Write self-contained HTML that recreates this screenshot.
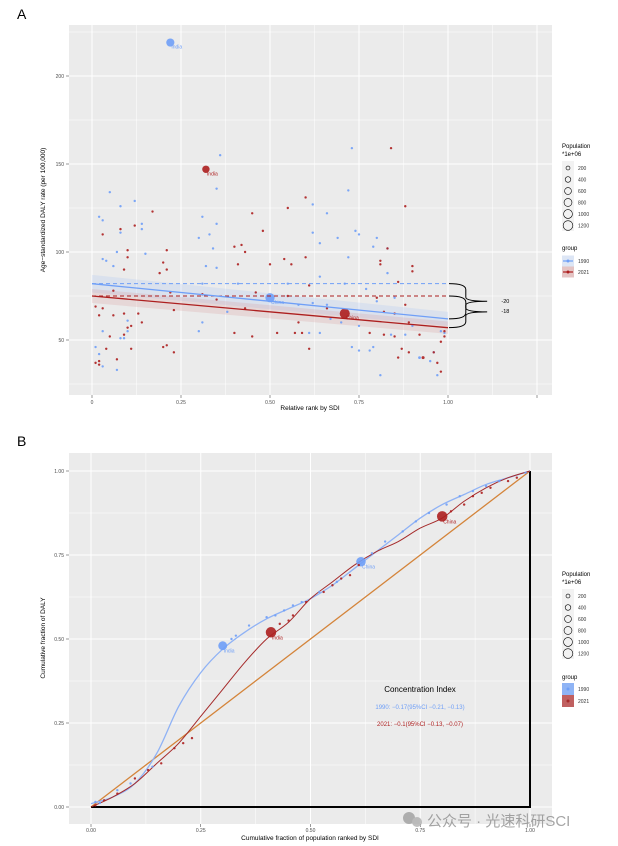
<!DOCTYPE html>
<html><head><meta charset="utf-8"><style>
body{margin:0;background:#fff;}
svg{display:block;font-family:"Liberation Sans","Noto Sans CJK SC",sans-serif;}
</style></head><body>
<svg id="s" width="618" height="846" xmlns="http://www.w3.org/2000/svg"></svg>
<script>
// ---------- Panel A data ----------
const aXTicks=[0,0.25,0.5,0.75,1.0];
const aXTickLabels=["0","0.25","0.50","0.75","1.00"];
const aYTicks=[50,100,150,200];
const pts1990A=[[0.22,219,850],[0.36,155,30],[0.05,134,60],[0.12,129,40],[0.73,159,5],[0.72,135,10],[0.66,122,60],[0.62,127,5],[0.35,136,5],[0.02,120,10],[0.03,118,10],[0.08,126,5],[0.14,116,10],[0.14,113,10],[0.08,111,5],[0.31,120,5],[0.33,110,5],[0.35,116,10],[0.34,102,20],[0.30,108,5],[0.62,111,10],[0.69,108,20],[0.64,105,10],[0.74,112,5],[0.75,110,5],[0.80,108,5],[0.79,103,10],[0.83,102,5],[0.72,97,10],[0.03,96,10],[0.04,95,5],[0.06,92,5],[0.15,99,5],[0.07,100,5],[0.32,92,10],[0.35,91,5],[0.83,88,40],[0.64,86,5],[0.50,74,1100],[0.38,66,40],[0.10,61,20],[0.02,42,20],[0.01,46,5],[0.03,35,5],[0.07,33,5],[0.08,51,10],[0.09,51,5],[0.10,55,5],[0.03,55,5],[0.73,46,5],[0.75,44,5],[0.78,44,5],[0.79,46,10],[0.81,30,5],[0.92,40,100],[0.96,43,40],[0.95,38,10],[0.97,30,5],[0.84,53,5],[0.88,53,5],[0.90,58,5],[0.85,74,20],[0.77,79,10],[0.71,82,10],[0.55,82,5],[0.31,82,5],[0.41,82,5],[0.58,70,10],[0.62,71,10],[0.66,70,5],[0.70,60,5],[0.75,58,5],[0.61,54,5],[0.64,54,10],[0.67,62,5],[0.80,72,5],[0.30,55,10],[0.31,60,5],[0.98,55,20],[0.99,54,10]];
const pts2021A=[[0.32,147,700],[0.84,159,5],[0.88,126,10],[0.60,131,20],[0.17,123,40],[0.12,115,40],[0.48,112,40],[0.55,125,10],[0.45,122,5],[0.03,110,10],[0.08,113,10],[0.42,104,30],[0.40,103,5],[0.21,101,10],[0.10,101,5],[0.83,102,15],[0.20,94,10],[0.21,90,10],[0.19,88,5],[0.09,90,10],[0.10,97,5],[0.50,93,15],[0.56,93,20],[0.54,96,10],[0.43,100,5],[0.41,93,10],[0.60,97,10],[0.81,95,10],[0.81,93,5],[0.90,92,10],[0.90,89,5],[0.86,83,30],[0.61,81,10],[0.46,77,30],[0.71,65,1300],[0.52,54,60],[0.14,60,60],[0.05,52,30],[0.04,45,30],[0.07,39,20],[0.11,45,10],[0.01,37,10],[0.02,36,5],[0.02,38,5],[0.20,46,20],[0.21,47,10],[0.23,43,10],[0.06,64,20],[0.09,65,20],[0.09,53,15],[0.10,57,10],[0.11,58,10],[0.02,64,10],[0.03,68,10],[0.01,69,10],[0.43,68,20],[0.40,54,5],[0.45,52,5],[0.58,60,15],[0.61,45,5],[0.57,54,5],[0.59,54,5],[0.78,54,5],[0.82,53,5],[0.86,40,5],[0.87,45,20],[0.89,43,20],[0.93,40,120],[0.96,43,40],[0.97,37,10],[0.98,32,5],[0.98,49,10],[0.99,52,30],[0.99,55,20],[0.89,60,10],[0.88,70,15],[0.80,74,10],[0.82,66,10],[0.85,65,10],[0.55,75,15],[0.31,76,10],[0.22,77,10],[0.06,78,10],[0.13,65,10],[0.23,67,10],[0.35,73,10],[0.66,68,10],[0.92,53,10],[0.85,52,10]];
const fit1990=[82,62];
const fit2021=[75,57];
const diffLabels=["-20","-18"];
// ---------- Panel B data ----------
const bTicks=[0,0.25,0.5,0.75,1.0];
const bTickLabels=["0.00","0.25","0.50","0.75","1.00"];
const curve1990=[[0,0.01],[0.05,0.03],[0.1,0.07],[0.15,0.16],[0.2,0.30],[0.25,0.40],[0.3,0.47],[0.35,0.52],[0.4,0.56],[0.45,0.59],[0.5,0.62],[0.55,0.66],[0.6,0.71],[0.65,0.76],[0.7,0.81],[0.75,0.86],[0.8,0.90],[0.85,0.93],[0.9,0.96],[0.95,0.98],[1,1]];
const curve2021=[[0,0],[0.05,0.03],[0.1,0.07],[0.15,0.13],[0.2,0.19],[0.25,0.27],[0.3,0.35],[0.35,0.43],[0.4,0.50],[0.45,0.55],[0.5,0.62],[0.55,0.67],[0.6,0.72],[0.65,0.76],[0.7,0.79],[0.75,0.83],[0.8,0.86],[0.85,0.91],[0.9,0.95],[0.95,0.98],[1,1]];
const pts1990B=[[0.01,0.015,40],[0.02,0.012,20],[0.06,0.05,20],[0.09,0.07,30],[0.14,0.12,10],[0.30,0.48,1000],[0.32,0.50,10],[0.33,0.51,10],[0.36,0.54,20],[0.40,0.565,40],[0.42,0.57,20],[0.44,0.585,20],[0.46,0.60,20],[0.48,0.61,20],[0.52,0.64,20],[0.56,0.67,10],[0.615,0.73,1150],[0.64,0.755,20],[0.67,0.79,20],[0.71,0.82,10],[0.74,0.85,10],[0.77,0.875,10],[0.81,0.90,10],[0.84,0.925,10],[0.87,0.94,10],[0.9,0.955,10],[0.93,0.97,10],[0.99,0.995,20]];
const pts2021B=[[0.01,0.005,20],[0.03,0.02,10],[0.06,0.04,10],[0.1,0.085,10],[0.13,0.11,40],[0.16,0.13,40],[0.19,0.175,40],[0.21,0.19,20],[0.23,0.205,10],[0.41,0.52,1400],[0.43,0.545,20],[0.45,0.555,20],[0.46,0.57,10],[0.49,0.61,40],[0.53,0.64,30],[0.55,0.66,10],[0.57,0.68,10],[0.59,0.69,10],[0.61,0.72,10],[0.80,0.865,1400],[0.82,0.88,10],[0.85,0.90,10],[0.87,0.925,20],[0.89,0.935,10],[0.91,0.95,10],[0.95,0.97,40],[0.97,0.98,10]];
const legendSizes=[200,400,600,800,1000,1200];

const NS="http://www.w3.org/2000/svg";
const S=document.getElementById('s');
function el(tag,attrs,parent,txt){const e=document.createElementNS(NS,tag);for(const k in attrs)e.setAttribute(k,attrs[k]);if(txt!==undefined)e.textContent=txt;(parent||S).appendChild(e);return e;}
const BLUE="#6f9ff7",RED="#ad1f1f";
const rad=p=>Math.max(1.2,0.14*Math.sqrt(p));

// ================= PANEL A =================
const ax=x=>92+x*356, ay=y=>340-(y-50)*1.76;
let t=el('text',{x:17,y:19,'font-size':14,fill:'#000'},S,'A');

let g=el('g',{});
el('rect',{x:69,y:25,width:483,height:370,fill:'#ebebeb'},g);
[-0.125,0.125,0.375,0.625,0.875,1.125].forEach(v=>el('line',{x1:ax(v),x2:ax(v),y1:25,y2:395,stroke:'#fff','stroke-width':0.5},g));
[25,75,125,175,225].forEach(v=>el('line',{x1:69,x2:552,y1:ay(v),y2:ay(v),stroke:'#fff','stroke-width':0.5},g));
aXTicks.concat([1.25]).forEach(v=>el('line',{x1:ax(v),x2:ax(v),y1:25,y2:395,stroke:'#fff','stroke-width':1},g));
aYTicks.forEach(v=>el('line',{x1:69,x2:552,y1:ay(v),y2:ay(v),stroke:'#fff','stroke-width':1},g));
aXTicks.forEach((v,i)=>{el('line',{x1:ax(v),x2:ax(v),y1:395,y2:398,stroke:'#333','stroke-width':0.5});
 let l=el('text',{x:ax(v),y:404,'font-size':5,fill:'#4d4d4d','text-anchor':'middle'},S,aXTickLabels[i]);});
el('line',{x1:ax(1.25),x2:ax(1.25),y1:395,y2:398,stroke:'#333','stroke-width':0.5});
aYTicks.forEach(v=>{el('line',{x1:66,x2:69,y1:ay(v),y2:ay(v),stroke:'#333','stroke-width':0.5});
 let l=el('text',{x:64,y:ay(v)+2,'font-size':5,fill:'#4d4d4d','text-anchor':'end'},S,String(v));});
t=el('text',{x:310,y:410,'font-size':6.5,fill:'#000','text-anchor':'middle'},S,'Relative rank by SDI');

t=el('text',{x:0,y:0,'font-size':6.5,fill:'#000','text-anchor':'middle',transform:`translate(45,210) rotate(-90)`},S,'Age−standardized DALY rate (per 100,000)');

function ribbon(f,w0,w1,col){const p=`M${ax(0)},${ay(f[0]+w0)} L${ax(1)},${ay(f[1]+w1)} L${ax(1)},${ay(f[1]-w1)} L${ax(0)},${ay(f[0]-w0)}Z`;el('path',{d:p,fill:col,opacity:0.25},g);}
ribbon(fit1990,5,4,'#a9c4f5');ribbon(fit2021,4,3.5,'#d99a9a');
function drawPts(arr,col,name){arr.forEach(p=>{const c=el('circle',{cx:ax(p[0]),cy:ay(p[1]),r:rad(p[2]),fill:col,opacity:0.9},g);});}
drawPts(pts1990A,BLUE,'point-1990');drawPts(pts2021A,RED,'point-2021');
el('text',{x:ax(0.22)+1,y:ay(219)+6,'font-size':5,fill:BLUE},g,'India');
el('text',{x:ax(0.32)+1,y:ay(147)+6,'font-size':5,fill:RED},g,'India');
el('text',{x:ax(0.50)+1,y:ay(74)+6,'font-size':5,fill:BLUE},g,'China');
el('text',{x:ax(0.71)+1,y:ay(65)+6,'font-size':5,fill:RED},g,'China');
let d=el('line',{x1:ax(0),x2:ax(1),y1:ay(fit1990[0]),y2:ay(fit1990[0]),stroke:BLUE,'stroke-width':1,'stroke-dasharray':'4,3'},g);
d=el('line',{x1:ax(0),x2:ax(1),y1:ay(fit2021[0]),y2:ay(fit2021[0]),stroke:RED,'stroke-width':1,'stroke-dasharray':'4,3'},g);
d=el('line',{x1:ax(0),x2:ax(1),y1:ay(fit1990[0]),y2:ay(fit1990[1]),stroke:BLUE,'stroke-width':1.3},g);
d=el('line',{x1:ax(0),x2:ax(1),y1:ay(fit2021[0]),y2:ay(fit2021[1]),stroke:RED,'stroke-width':1.3},g);
function brace(y1,y2,lab,ly){const x0=ax(1.0)+1,x1=ax(1.05),x2=ax(1.11);const m=(y1+y2)/2;
 const p=`M${x0},${y1} Q${x1},${y1} ${x1},${y1+6} L${x1},${m-4} Q${x1},${m} ${x2},${m} Q${x1},${m} ${x1},${m+4} L${x1},${y2-6} Q${x1},${y2} ${x0},${y2}`;
 const b=el('path',{d:p,fill:'none',stroke:'#000','stroke-width':1});
 const l=el('text',{x:ax(1.15),y:ly,'font-size':5.5,fill:'#000'},S,lab);}
brace(ay(fit1990[0]),ay(fit1990[1]),diffLabels[0],303);
brace(ay(fit2021[0]),ay(fit2021[1]),diffLabels[1],313);

function sizeLegend(y0,name){const lg=el('g',{});
 el('text',{x:562,y:y0,'font-size':6,fill:'#000'},lg,'Population');el('text',{x:562,y:y0+8,'font-size':6,fill:'#000'},lg,'*1e+06');
 el('rect',{x:562,y:y0+13,width:12,height:70,fill:'#f2f2f2'},lg);
 legendSizes.forEach((s,i)=>{const yy=y0+20+i*11.5;el('circle',{cx:568,cy:yy,r:rad(s),fill:'none',stroke:'#000','stroke-width':0.6},lg);el('text',{x:578,y:yy+2,'font-size':5,fill:'#333'},lg,String(s));});}
sizeLegend(148,'legend-population-a');sizeLegend(576,'legend-population-b');
let lg=el('g',{});
el('text',{x:562,y:250,'font-size':6,fill:'#000'},lg,'group');
[[BLUE,'#dde6f5','1990',261],[RED,'#e4c4c4','2021',272]].forEach(a=>{el('rect',{x:562,y:a[3]-5.5,width:12,height:11,fill:a[1]},lg);el('line',{x1:563,x2:573,y1:a[3],y2:a[3],stroke:a[0],'stroke-width':1.2},lg);el('circle',{cx:568,cy:a[3],r:1.5,fill:a[0]},lg);el('text',{x:578,y:a[3]+2,'font-size':5,fill:'#333'},lg,a[2]);});

// ================= PANEL B =================
const bx=x=>91+x*439, by=y=>807-y*336;
t=el('text',{x:17,y:446,'font-size':14,fill:'#000'},S,'B');

g=el('g',{});
el('rect',{x:69,y:453,width:483,height:371,fill:'#ebebeb'},g);
[0.125,0.375,0.625,0.875].forEach(v=>{el('line',{x1:bx(v),x2:bx(v),y1:453,y2:824,stroke:'#fff','stroke-width':0.5},g);el('line',{x1:69,x2:552,y1:by(v),y2:by(v),stroke:'#fff','stroke-width':0.5},g);});
bTicks.forEach((v,i)=>{el('line',{x1:bx(v),x2:bx(v),y1:453,y2:824,stroke:'#fff','stroke-width':1},g);el('line',{x1:69,x2:552,y1:by(v),y2:by(v),stroke:'#fff','stroke-width':1},g);
 el('line',{x1:bx(v),x2:bx(v),y1:824,y2:827,stroke:'#333','stroke-width':0.5});el('line',{x1:66,x2:69,y1:by(v),y2:by(v),stroke:'#333','stroke-width':0.5});
 let l=el('text',{x:bx(v),y:832,'font-size':5,fill:'#4d4d4d','text-anchor':'middle'},S,bTickLabels[i]);
 l=el('text',{x:64,y:by(v)+2,'font-size':5,fill:'#4d4d4d','text-anchor':'end'},S,bTickLabels[i]);});
t=el('text',{x:310,y:840,'font-size':6.5,fill:'#000','text-anchor':'middle'},S,'Cumulative fraction of population ranked by SDI');

t=el('text',{x:0,y:0,'font-size':6.5,fill:'#000','text-anchor':'middle',transform:`translate(45,638) rotate(-90)`},S,'Cumulative fraction of DALY');

d=el('line',{x1:bx(0),y1:by(0),x2:bx(1),y2:by(1),stroke:'#d4843a','stroke-width':1.3},g);
d=el('path',{d:`M${bx(0)},${by(0)} L${bx(1)},${by(0)} L${bx(1)},${by(1)}`,fill:'none',stroke:'#000','stroke-width':2},g);
function smoothPath(arr){const P=arr.map(p=>[bx(p[0]),by(p[1])]);let s=`M${P[0][0]},${P[0][1]}`;
 for(let i=0;i<P.length-1;i++){const p0=P[Math.max(0,i-1)],p1=P[i],p2=P[i+1],p3=P[Math.min(P.length-1,i+2)];
  s+=` C${p1[0]+(p2[0]-p0[0])/6},${p1[1]+(p2[1]-p0[1])/6} ${p2[0]-(p3[0]-p1[0])/6},${p2[1]-(p3[1]-p1[1])/6} ${p2[0]},${p2[1]}`;}return s;}
function curve(arr,col,w,name){const c=el('path',{d:smoothPath(arr),fill:'none',stroke:col,'stroke-width':w},g);}
curve(curve1990,'#8fb2f5',1.3,'curve-1990');curve(curve2021,'#a52a2a',1,'curve-2021');
function drawPtsB(arr,col,name){arr.forEach(p=>{const c=el('circle',{cx:bx(p[0]),cy:by(p[1]),r:rad(p[2]),fill:col,opacity:0.9},g);});}
drawPtsB(pts1990B,BLUE,'point-1990-b');drawPtsB(pts2021B,RED,'point-2021-b');
el('text',{x:bx(0.30)+1,y:by(0.48)+7,'font-size':5,fill:BLUE},g,'India');
el('text',{x:bx(0.41)+1,y:by(0.52)+7,'font-size':5,fill:RED},g,'India');
el('text',{x:bx(0.615)+1,y:by(0.73)+7,'font-size':5,fill:BLUE},g,'China');
el('text',{x:bx(0.80)+1,y:by(0.865)+7,'font-size':5,fill:RED},g,'China');
t=el('text',{x:420,y:692,'font-size':8,fill:'#000','text-anchor':'middle'},S,'Concentration Index');
t=el('text',{x:420,y:709,'font-size':6,fill:BLUE,'text-anchor':'middle'},S,'1990: −0.17(95%CI −0.21, −0.13)');
t=el('text',{x:420,y:726,'font-size':6,fill:RED,'text-anchor':'middle'},S,'2021: −0.1(95%CI −0.13, −0.07)');
lg=el('g',{});
el('text',{x:562,y:679,'font-size':6,fill:'#000'},lg,'group');
[['#6f9ff7','#8fb4f5','1990',689],['#a52a2a','#c06060','2021',701]].forEach(a=>{el('rect',{x:562,y:a[3]-6,width:12,height:12,fill:a[1]},lg);el('circle',{cx:568,cy:a[3],r:1.5,fill:a[0]},lg);el('text',{x:578,y:a[3]+2,'font-size':5,fill:'#333'},lg,a[2]);});
const wm=el('g',{opacity:0.75});
el('circle',{cx:409,cy:818,r:6,fill:'#999'},wm);el('circle',{cx:417,cy:822,r:5,fill:'#aaa'},wm);
el('text',{x:427,y:826,'font-size':15,fill:'#888'},wm,'公众号 · 光速科研SCI');
</script>
</body></html>
